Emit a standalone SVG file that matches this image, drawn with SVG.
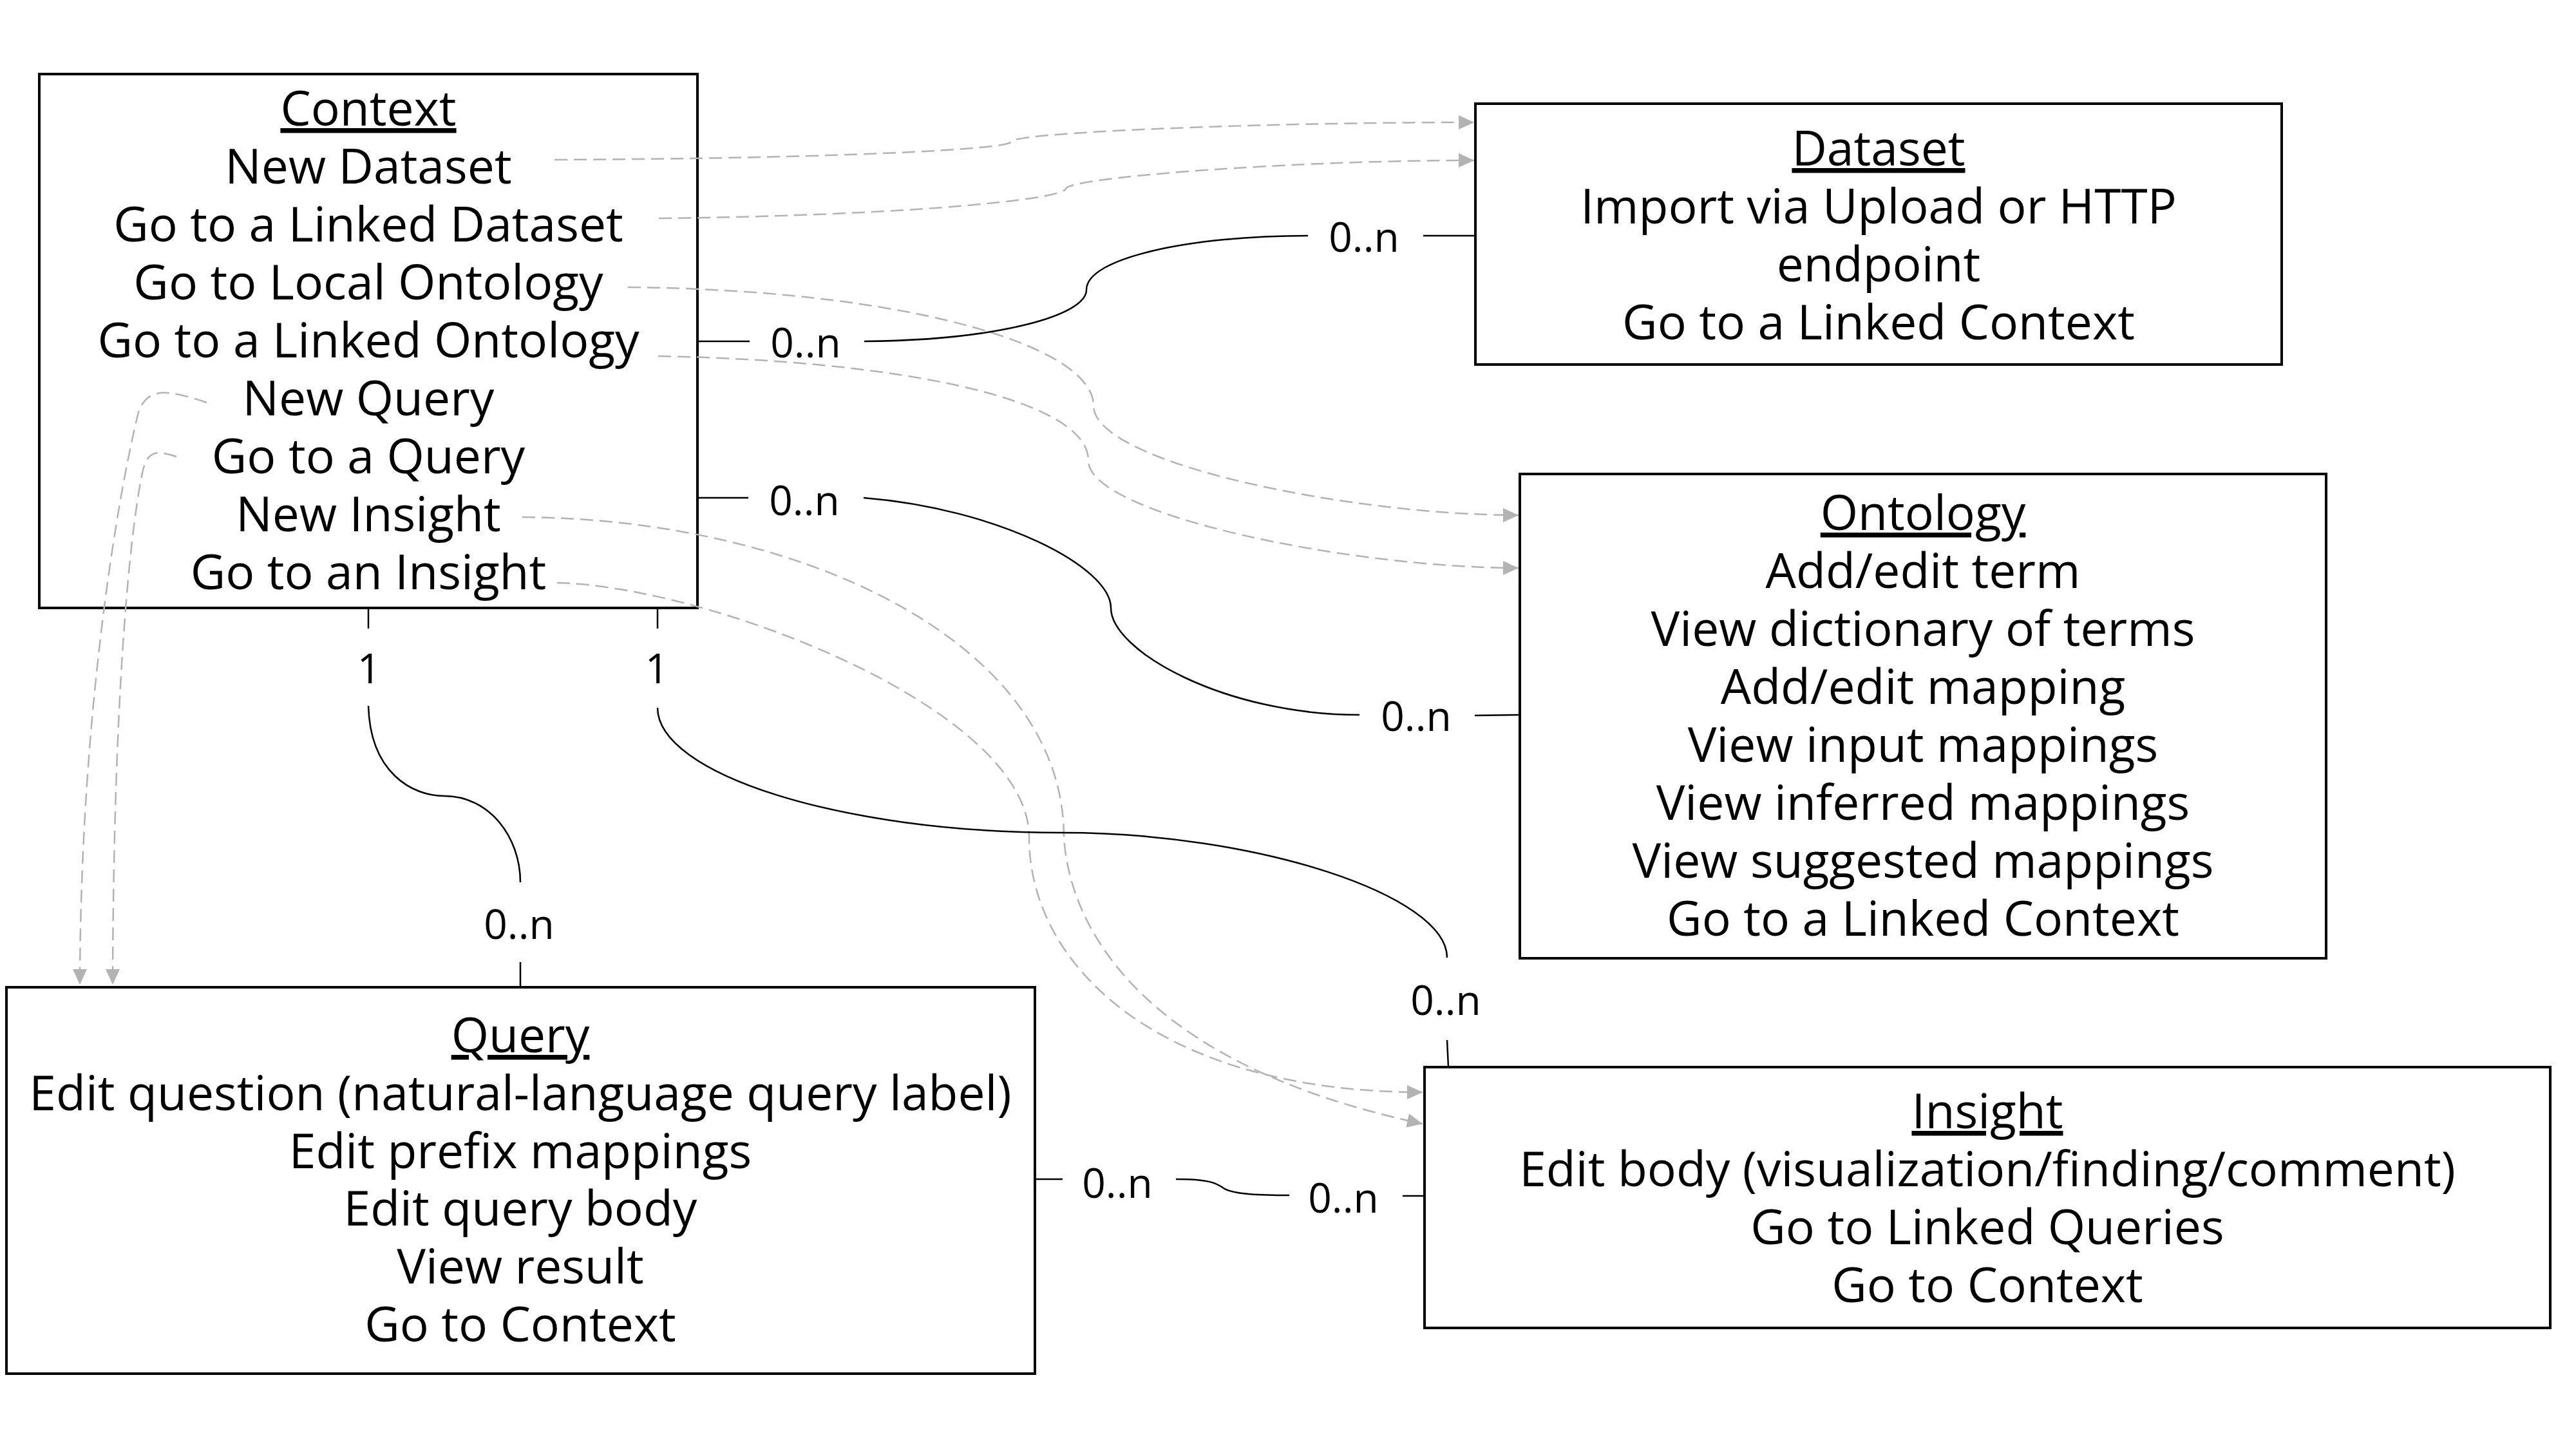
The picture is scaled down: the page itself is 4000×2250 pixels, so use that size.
<svg xmlns="http://www.w3.org/2000/svg" width="4000" height="2250" viewBox="0 0 4000 2250">
<style>
.box{fill:#fff;stroke:#000;stroke-width:4}
.t{font-family:"Open Sans","Noto Sans","DejaVu Sans",sans-serif;font-size:75px;fill:#000;text-anchor:middle}
.h{text-decoration:underline}
.lbl{font-family:"Open Sans","Noto Sans","DejaVu Sans",sans-serif;font-size:64px;fill:#000;text-anchor:middle}
.solid{fill:none;stroke:#000;stroke-width:2.5}
.dash{fill:none;stroke:#b3b3b3;stroke-width:2.5;stroke-dasharray:20 10;marker-end:url(#arr)}
</style>
<defs>
<marker id="arr" markerUnits="userSpaceOnUse" markerWidth="26" markerHeight="24" viewBox="0 -12 26 24" refX="24" refY="0" orient="auto">
<path d="M0,-11 L24,0 L0,11 z" fill="#b3b3b3"/>
</marker>
</defs>
<rect width="4000" height="2250" fill="#fff"/>
<g id="context">
<rect class="box" x="61" y="115" width="1022" height="829"/>
<text class="t h" x="572" y="195">Context</text>
<text class="t" x="572" y="285">New Dataset</text>
<text class="t" x="572" y="375">Go to a Linked Dataset</text>
<text class="t" x="572" y="465">Go to Local Ontology</text>
<text class="t" x="572" y="555">Go to a Linked Ontology</text>
<text class="t" x="572" y="645">New Query</text>
<text class="t" x="572" y="735">Go to a Query</text>
<text class="t" x="572" y="825">New Insight</text>
<text class="t" x="572" y="915">Go to an Insight</text>
</g>
<g id="dataset">
<rect class="box" x="2291" y="161" width="1252" height="405"/>
<text class="t h" x="2917" y="257">Dataset</text>
<text class="t" x="2917" y="347">Import via Upload or HTTP</text>
<text class="t" x="2917" y="437">endpoint</text>
<text class="t" x="2917" y="527">Go to a Linked Context</text>
</g>
<g id="ontology">
<rect class="box" x="2360" y="736" width="1252" height="752"/>
<text class="t h" x="2986" y="823">Ontology</text>
<text class="t" x="2986" y="913">Add/edit term</text>
<text class="t" x="2986" y="1003">View dictionary of terms</text>
<text class="t" x="2986" y="1093">Add/edit mapping</text>
<text class="t" x="2986" y="1183">View input mappings</text>
<text class="t" x="2986" y="1273">View inferred mappings</text>
<text class="t" x="2986" y="1363">View suggested mappings</text>
<text class="t" x="2986" y="1453">Go to a Linked Context</text>
</g>
<g id="query">
<rect class="box" x="10" y="1533" width="1597" height="600"/>
<text class="t h" x="808" y="1634">Query</text>
<text class="t" x="808" y="1724">Edit question (natural-language query label)</text>
<text class="t" x="808" y="1814">Edit prefix mappings</text>
<text class="t" x="808" y="1903">Edit query body</text>
<text class="t" x="808" y="1993">View result</text>
<text class="t" x="808" y="2083">Go to Context</text>
</g>
<g id="insight">
<rect class="box" x="2212" y="1657" width="1748" height="405"/>
<text class="t h" x="3086" y="1752">Insight</text>
<text class="t" x="3086" y="1842">Edit body (visualization/finding/comment)</text>
<text class="t" x="3086" y="1932">Go to Linked Queries</text>
<text class="t" x="3086" y="2022">Go to Context</text>
</g>
<g id="connectors">
<path class="dash" d="M861,248 C1300,246 1568,232 1570,220 C1572,206 1950,190 2289,190"/>
<path class="dash" d="M1023,339 C1400,335 1652,310 1655,293 C1658,276 2000,249 2289,249"/>
<path class="dash" d="M975,446 C1400,450 1698,535 1698,630 C1698,720 2100,800 2358,800"/>
<path class="dash" d="M1022,553 C1400,560 1690,620 1690,715 C1690,800 2100,882 2358,882"/>
<path class="dash" d="M321,625 C260,605 230,600 215,640 C185,760 125,1100 124,1529"/>
<path class="dash" d="M274,709 C245,700 230,698 222,730 C200,830 176,1100 175,1529"/>
<path class="dash" d="M811,803 C1250,806 1652,1000 1652,1300 C1660,1430 1760,1650 2209,1745"/>
<path class="dash" d="M865,905 C1100,910 1598,1100 1598,1300 C1598,1500 1800,1696 2209,1696"/>
<path class="solid" d="M1083,530 L1164,530 M1342,530 C1550,528 1687,490 1687,450 C1687,400 1850,366 2031,366 M2210,366 L2291,366"/>
<path class="solid" d="M1083,773 L1162,773 M1341,773 C1550,790 1725,880 1725,944 C1725,1010 1900,1110 2111,1110 M2290,1111 L2360,1110"/>
<path class="solid" d="M572,944 L572,976 M572,1096 C575,1200 640,1236 690,1236 C760,1236 808,1300 808,1370 M808,1494 L808,1533"/>
<path class="solid" d="M1021,944 L1021,976 M1021,1099 C1021,1200 1300,1293 1650,1293 C1950,1293 2247,1390 2247,1487 M2247,1615 L2249,1657"/>
<path class="solid" d="M1607,1831 L1650,1831 M1826,1831 C1880,1831 1890,1838 1900,1845 C1915,1855 1960,1856 2002,1856 M2178,1857 L2212,1857"/>
<text class="lbl" x="1251" y="555">0..n</text>
<text class="lbl" x="2118" y="391">0..n</text>
<text class="lbl" x="1249" y="800">0..n</text>
<text class="lbl" x="2199" y="1135">0..n</text>
<text class="lbl" x="806" y="1458">0..n</text>
<text class="lbl" x="2245" y="1576">0..n</text>
<text class="lbl" x="1735" y="1860">0..n</text>
<text class="lbl" x="2086" y="1883">0..n</text>
<text class="lbl" x="573" y="1061">1</text>
<text class="lbl" x="1020" y="1061">1</text>
</g>
</svg>
